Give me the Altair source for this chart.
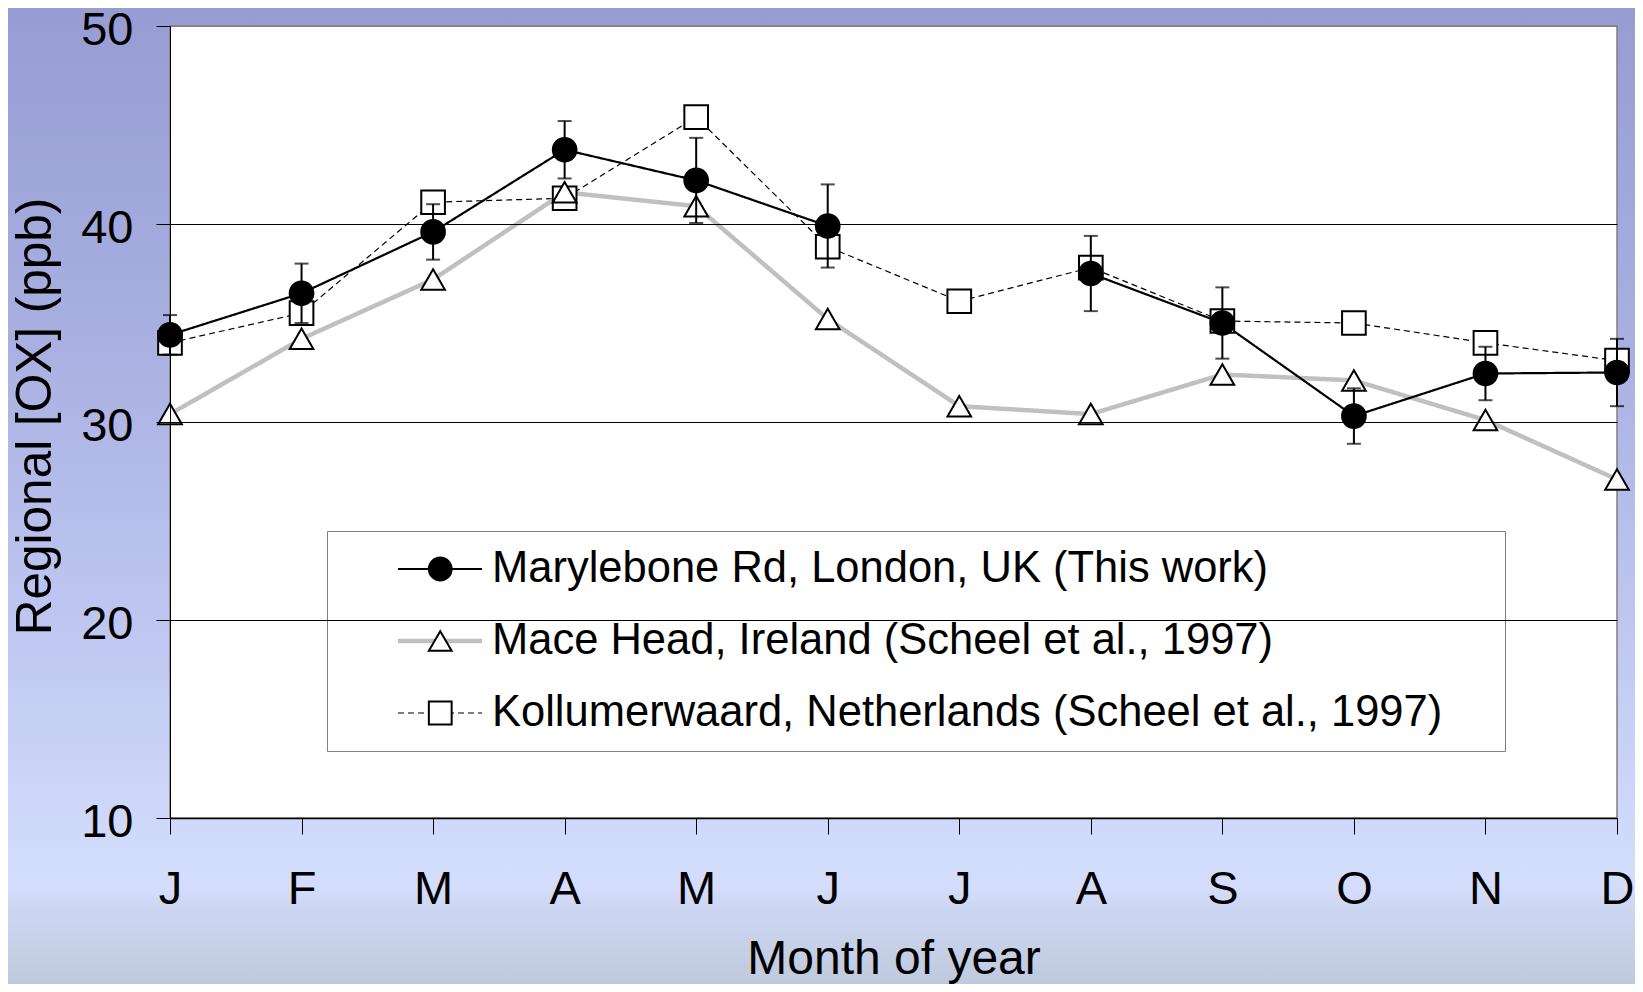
import altair as alt
import pandas as pd

# ---------------- data ----------------
months = ["Jan", "Feb", "Mar", "Apr", "May", "Jun", "Jul", "Aug", "Sep", "Oct", "Nov", "Dec"]
series_names = [
    "Marylebone Rd, London, UK (This work)",
    "Mace Head, Ireland (Scheel et al., 1997)",
    "Kollumerwaard, Netherlands (Scheel et al., 1997)",
]
marylebone = [34.4, 36.5, 39.6, 43.75, 42.2, 39.9, None, 37.5, 35.0, 30.3, 32.45, 32.5]
marylebone_err = [1.0, 1.5, 1.4, 1.45, 2.15, 2.1, None, 1.9, 1.8, 1.4, 1.35, 1.7]
mace_head = [30.4, 34.2, 37.2, 41.6, 40.9, 35.2, 30.8, 30.4, 32.4, 32.1, 30.1, 27.1]
kollumerwaard = [34.0, 35.5, 41.1, 41.3, 45.4, 38.85, 36.1, 37.8, 35.1, 35.0, 34.0, 33.1]
no_err = [None] * 12
y_ticks = [10, 20, 30, 40, 50]

values_by_series = [marylebone, mace_head, kollumerwaard]
errs_by_series = [marylebone_err, no_err, no_err]

rows = []
for s_i in [2, 1, 0]:
    for m_i, mo in enumerate(months):
        rows.append({
            "series": series_names[s_i],
            "key": s_i + 1,
            "month": mo,
            "m": m_i,
            "value": values_by_series[s_i][m_i],
            "err": errs_by_series[s_i][m_i],
        })
df = pd.DataFrame(rows)

# ---------------- styling ----------------
FONT = "Arial, Liberation Sans, sans-serif"
W, H = 1447, 792
PAD_L, PAD_T, PAD_R, PAD_B = 162, 18, 18, 166

x_enc = alt.X(
    "month:N",
    scale=alt.Scale(type="point", domain=months, padding=0),
    axis=alt.Axis(
        title="Month of year",
        labelExpr="substring(datum.label, 0, 1)",
        labelAngle=0,
        labelFont=FONT, labelFontSize=47, labelColor="black",
        labelBaseline="alphabetic", labelPadding=69,
        tickSize=16, tickColor="black", tickWidth=1,
        domainColor="black", domainWidth=1.5, grid=False,
        titleFont=FONT, titleFontSize=48, titleFontWeight="normal", titleColor="black",
        titleBaseline="alphabetic", titleX=W / 2, titleY=155,
        zindex=1,
    ),
)

y_scale = alt.Scale(domain=[10, 50], nice=False, zero=False)
y_axis = alt.Axis(
    title="Regional [OX] (ppb)",
    values=y_ticks,
    labelFont=FONT, labelFontSize=47, labelColor="black", labelPadding=23, labelOffset=4,
    tickSize=14, tickColor="black", tickWidth=1,
    domainColor="black", domainWidth=1,
    grid=True,
    gridColor={"condition": {"test": "datum.value == 50", "value": "#808080"}, "value": "black"},
    gridWidth=1,
    titleFont=FONT, titleFontSize=49.5, titleFontWeight="normal", titleColor="black",
    titleBaseline="alphabetic", titleX=-120, titleY=390,
    zindex=1,
)

line_legend = alt.Legend(
    title=None, orient="none", legendX=157, legendY=505, direction="vertical",
    symbolType="stroke", symbolSize=7056,
    labelFont=FONT, labelFontSize=43.5, labelColor="black", labelLimit=1500,
    labelExpr="datum.label + '    \u200b'",
    padding=14, clipHeight=48, rowPadding=24,
    symbolOffset=54.5, labelOffset=7.5,
    fillColor="white", strokeColor="#808080",
)

pt_legend = alt.Legend(
    title=None, orient="none", legendX=157, legendY=505, direction="vertical",
    symbolSize=520, symbolStrokeColor="black", symbolStrokeWidth=2, symbolOpacity=1,
    labelFont=FONT, labelFontSize=43.5, labelExpr="''",
    padding=14, clipHeight=48, rowPadding=24, symbolOffset=77.5,
)

base = alt.Chart(df)
y_val = alt.Y("value:Q", scale=y_scale, axis=y_axis)
shape_enc = alt.Shape("key:N", scale=alt.Scale(range=["circle", "triangle-up", "square"]),
                      legend=pt_legend)
fill_enc = alt.Fill("key:N", scale=alt.Scale(range=["black", "white", "white"]),
                    legend=pt_legend)
stroke_enc = alt.Stroke("key:N", scale=alt.Scale(range=["black", "black", "black"]),
                        legend=pt_legend)

lines = (
    base.transform_calculate(isnull="datum.value == null ? 1 : 0")
    .transform_window(seg="sum(isnull)", sort=[alt.SortField("m")], groupby=["series"])
    .transform_filter("datum.value != null")
    .mark_line()
    .encode(
        x=x_enc,
        y=y_val,
        color=alt.Color("series:N", scale=alt.Scale(domain=series_names,
                        range=["black", "#c0c0c0", "black"]), legend=line_legend),
        strokeDash=alt.StrokeDash("series:N", scale=alt.Scale(domain=series_names,
                        range=[[1, 0], [1, 0], [6, 4]]), legend=line_legend),
        strokeWidth=alt.StrokeWidth("series:N", scale=alt.Scale(type="ordinal", domain=series_names,
                        range=[2.2, 4.5, 1.2]), legend=line_legend),
        detail="seg:N",
        order="m:Q",
    )
)

hollow_points = (
    base.transform_filter("datum.value != null && datum.key != 1")
    .mark_point(size=560, strokeWidth=2, opacity=1)
    .encode(x=x_enc, y=y_val, shape=shape_enc, fill=fill_enc, stroke=stroke_enc)
)

errbars = (
    base.transform_filter("datum.err != null")
    .transform_calculate(lo="datum.value - datum.err", hi="datum.value + datum.err")
    .mark_errorbar(ticks=True, size=14, thickness=2, color="black")
    .encode(
        x=x_enc,
        y=alt.Y("lo:Q", scale=y_scale, axis=y_axis),
        y2="hi:Q",
    )
)

solid_points = (
    base.transform_filter("datum.value != null && datum.key == 1")
    .mark_point(size=560, strokeWidth=2, opacity=1)
    .encode(x=x_enc, y=y_val, shape=shape_enc, fill=fill_enc, stroke=stroke_enc)
)

# ---------------- page background (gradient frame around the white plot) ----------------
grad_stops = [(0.0, (0x97, 0x9d, 0xd3)), (0.3, (0xa6, 0xad, 0xdf)), (0.6, (0xbc, 0xc4, 0xef)),
              (0.9, (0xd4, 0xde, 0xfc)), (0.925, (0xcc, 0xd6, 0xf1)), (1.0, (0xbf, 0xca, 0xdd))]


def _col_at(t):
    for (t0, c0), (t1, c1) in zip(grad_stops[:-1], grad_stops[1:]):
        if t0 <= t <= t1:
            f = (t - t0) / (t1 - t0)
            return tuple(round(a + (b - a) * f) for a, b in zip(c0, c1))
    return grad_stops[-1][1]


def _hex(c):
    return "#%02x%02x%02x" % c


def gradient_between(a, b):
    pts = [a] + [t for t, _ in grad_stops if a < t < b] + [b]
    return alt.LinearGradient(
        gradient="linear", x1=0, x2=0, y1=0, y2=1,
        stops=[alt.GradientStop(offset=(t - a) / (b - a), color=_hex(_col_at(t))) for t in pts],
    )


total_h = PAD_T + H + PAD_B
t_plot_top = PAD_T / total_h
t_plot_bot = (PAD_T + H) / total_h

bg_df = pd.DataFrame({"k": [0]})
strip_left = alt.Chart(bg_df).mark_rect(fill=gradient_between(0, 1)).encode(
    x=alt.value(-PAD_L), x2=alt.value(0), y=alt.value(-PAD_T), y2=alt.value(H + PAD_B))
strip_right = alt.Chart(bg_df).mark_rect(fill=gradient_between(0, 1)).encode(
    x=alt.value(W), x2=alt.value(W + PAD_R), y=alt.value(-PAD_T), y2=alt.value(H + PAD_B))
strip_top = alt.Chart(bg_df).mark_rect(fill=gradient_between(0, t_plot_top)).encode(
    x=alt.value(0), x2=alt.value(W), y=alt.value(-PAD_T), y2=alt.value(0))
strip_bottom = alt.Chart(bg_df).mark_rect(fill=gradient_between(t_plot_bot, 1)).encode(
    x=alt.value(0), x2=alt.value(W), y=alt.value(H), y2=alt.value(H + PAD_B))
plot_border = alt.Chart(bg_df).mark_rect(fill="transparent", stroke="#808080", strokeWidth=1.5).encode(
    x=alt.value(0), x2=alt.value(W), y=alt.value(0), y2=alt.value(H))

chart = (
    alt.layer(strip_left, strip_right, strip_top, strip_bottom, plot_border,
              lines, hollow_points, errbars, solid_points)
    .properties(
        width=W, height=H,
        autosize=alt.AutoSizeParams(type="none"),
        padding={"left": PAD_L, "top": PAD_T, "right": PAD_R, "bottom": PAD_B},
    )
    .configure_view(stroke="transparent", fill="white")
)

chart.save("out.html", embed_options={"renderer": "svg", "actions": False})
